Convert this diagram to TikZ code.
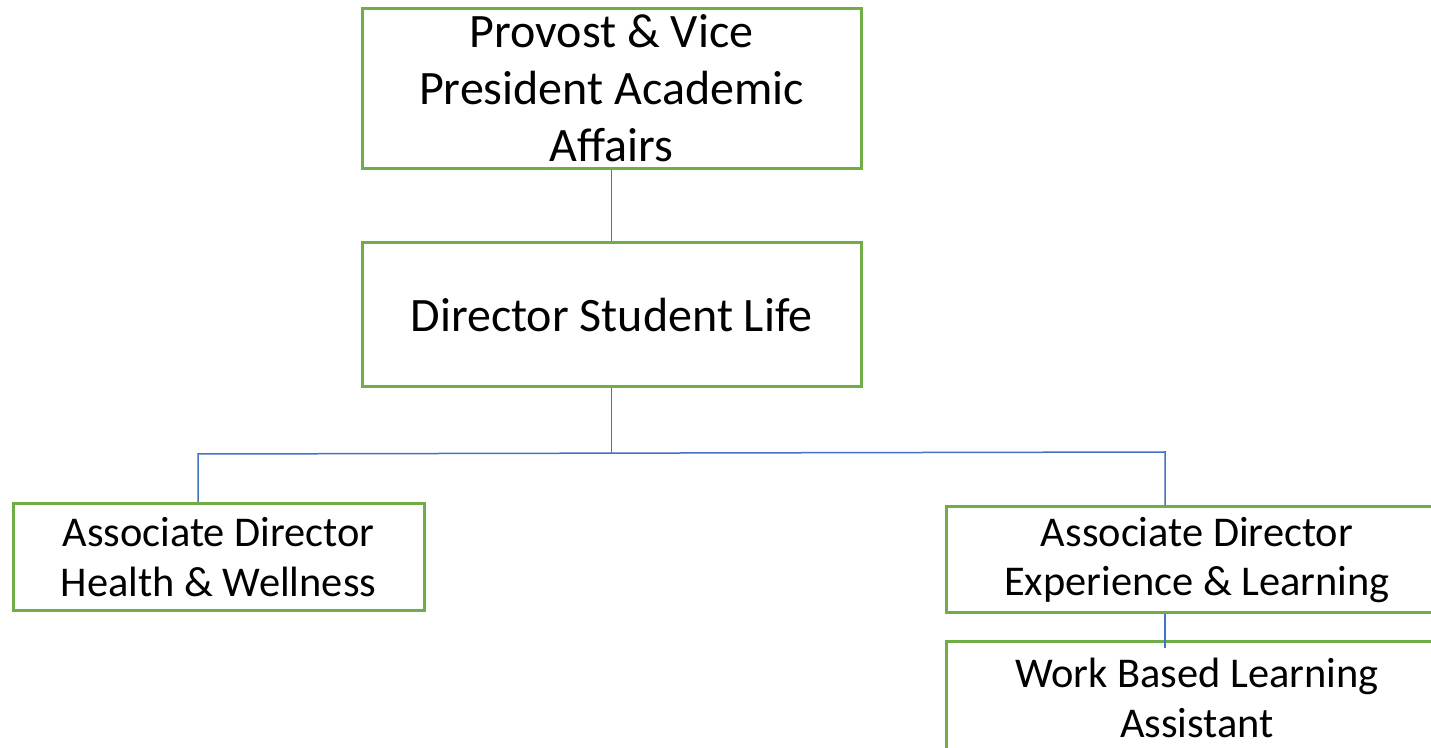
\documentclass[tikz,border=0pt]{standalone}
\usepackage{fontspec}
\setmainfont{Carlito}
\definecolor{boxgreen}{HTML}{70AD47}
\definecolor{linkblue}{HTML}{4472C4}
\begin{document}
\begin{tikzpicture}[x=0.5pt,y=-0.5pt,
  orgbox/.style={draw=boxgreen,line width=1.5pt,fill=white,rectangle,inner sep=0pt,align=center,text=black},
  bigtext/.style={font=\fontsize{24}{28.5}\selectfont},
  smalltext/.style={font=\fontsize{21.2}{24.8}\selectfont},
  link/.style={draw=linkblue,line width=0.75pt}]
\useasboundingbox (0,0) rectangle (1431,748);
\clip (0,0) rectangle (1431,748);
\fill[white] (0,0) rectangle (1431,748);
\coordinate (hl) at (198,454);
\coordinate (hr) at (1165,452);
\coordinate (j) at (611.5,453);
\node[orgbox,bigtext,minimum width=499*0.5pt,minimum height=160*0.5pt] (top) at (611.5,88.5) {Provost \& Vice\\President Academic\\Affairs};
\node[orgbox,bigtext,minimum width=499*0.5pt,minimum height=144*0.5pt] (dir) at (611.5,315) {Director Student Life};
\node[orgbox,smalltext,minimum width=411*0.5pt,minimum height=107*0.5pt] (left) at (218.5,557) {Associate Director\\Health \& Wellness};
\node[orgbox,smalltext,minimum width=502*0.5pt,minimum height=106*0.5pt] (r1) at (1197,560) {Associate Director\\Experience \& Learning};
\node[orgbox,smalltext,minimum width=502*0.5pt,minimum height=112*0.5pt] (r2) at (1197,698) {Work Based Learning\\Assistant};
\draw[link] (top.south) -- (dir.north);
\draw[link] (dir.south) -- (j);
\draw[link] (hl |- left.north) -- (hl) -- (hr) -- (hr |- r1.north);
\coordinate (r2top) at (1165,648);
\draw[link] (hr |- r1.south) -- (r2top);
\end{tikzpicture}
\end{document}
